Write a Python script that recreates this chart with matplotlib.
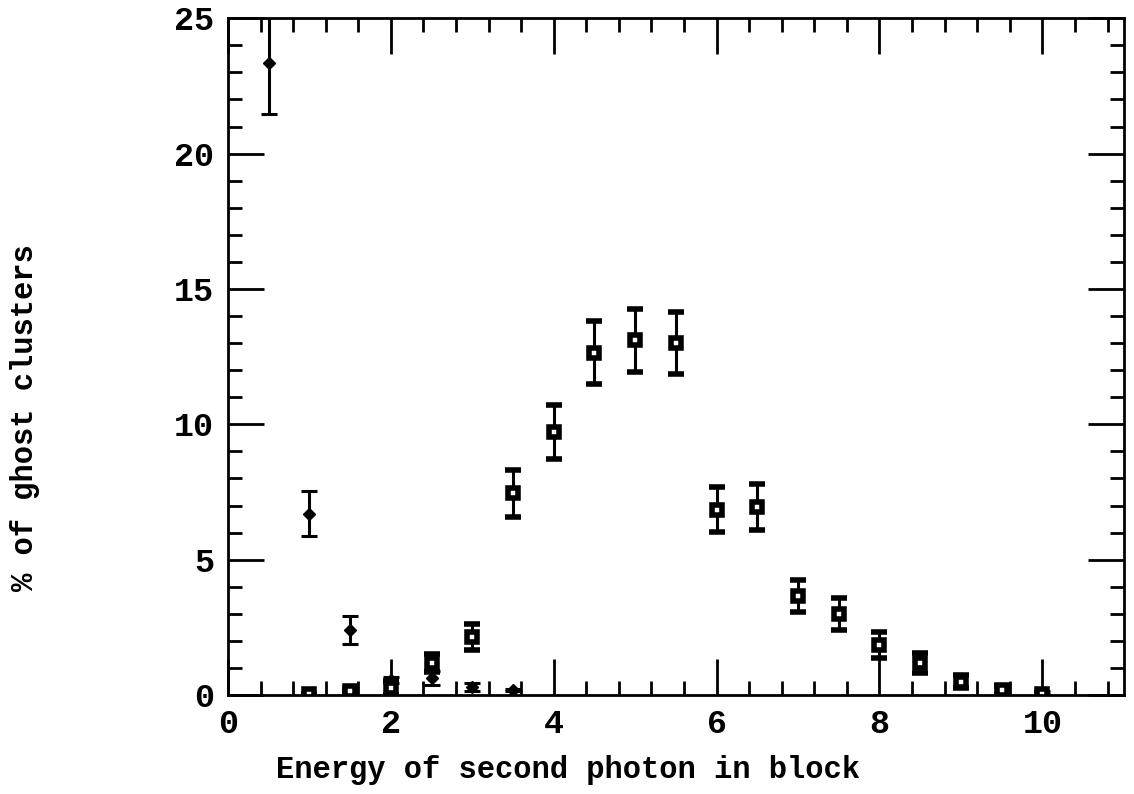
import numpy as np
import matplotlib
matplotlib.use('Agg')
import matplotlib.pyplot as plt
from matplotlib.ticker import MultipleLocator

# low-energy component (diamonds)
x_diam = [0.5, 1.0, 1.5, 2.0, 2.5, 3.0, 3.5, 10.0]
y_diam = [23.35, 6.7, 2.4, 0.55, 0.62, 0.3, 0.18, 0.1]
e_diam = [1.9, 0.82, 0.5, 0.1, 0.25, 0.15, 0.05, 0.05]

# second component (squares)
x_sq = [1.0, 1.5, 2.0, 2.5, 3.0, 3.5, 4.0, 4.5, 5.0, 5.5, 6.0, 6.5,
        7.0, 7.5, 8.0, 8.5, 9.0, 9.5, 10.0]
y_sq = [0.02, 0.15, 0.25, 1.18, 2.14, 7.45, 9.71, 12.65, 13.1, 13.0, 6.85, 6.94,
        3.65, 2.99, 1.85, 1.18, 0.48, 0.18, 0.05]
e_sq = [0.02, 0.08, 0.25, 0.32, 0.47, 0.87, 1.0, 1.15, 1.17, 1.15, 0.83, 0.85,
        0.6, 0.58, 0.47, 0.37, 0.24, 0.15, 0.04]

plt.rcParams['font.family'] = ['Liberation Mono', 'DejaVu Sans Mono']

fig = plt.figure(figsize=(11.34, 7.94), dpi=100)
ax = fig.add_axes([0.201, 0.1247, 0.79, 0.8523])

ax.errorbar(x_diam, y_diam, yerr=e_diam, fmt='D', color='black', markersize=6,
            elinewidth=2.2, capsize=6, capthick=2.2)
ax.errorbar(x_sq, y_sq, yerr=e_sq, fmt='s', color='black', mfc='white', mec='black',
            mew=4, markersize=7.5, elinewidth=2.2, capsize=6, capthick=2.2)

ax.set_xlim(0, 11)
ax.set_ylim(0, 25)
ax.xaxis.set_major_locator(MultipleLocator(2))
ax.xaxis.set_minor_locator(MultipleLocator(0.4))
ax.yaxis.set_major_locator(MultipleLocator(5))
ax.yaxis.set_minor_locator(MultipleLocator(1))
ax.tick_params(which='both', direction='in', top=True, right=True, width=2)
ax.tick_params(which='major', length=26, labelsize=24, pad=10)
ax.tick_params(which='minor', length=10)
for lab in ax.get_xticklabels() + ax.get_yticklabels():
    lab.set_fontweight('bold')
for s in ax.spines.values():
    s.set_linewidth(2)

ax.set_xlabel('Energy of second photon in block', fontsize=22, fontweight='bold')
ax.set_ylabel('% of ghost clusters', fontsize=22, fontweight='bold')
ax.xaxis.set_label_coords(0.38, -0.088)
ax.yaxis.set_label_coords(-0.21, 0.41)

fig.savefig('out.png', dpi=100)
